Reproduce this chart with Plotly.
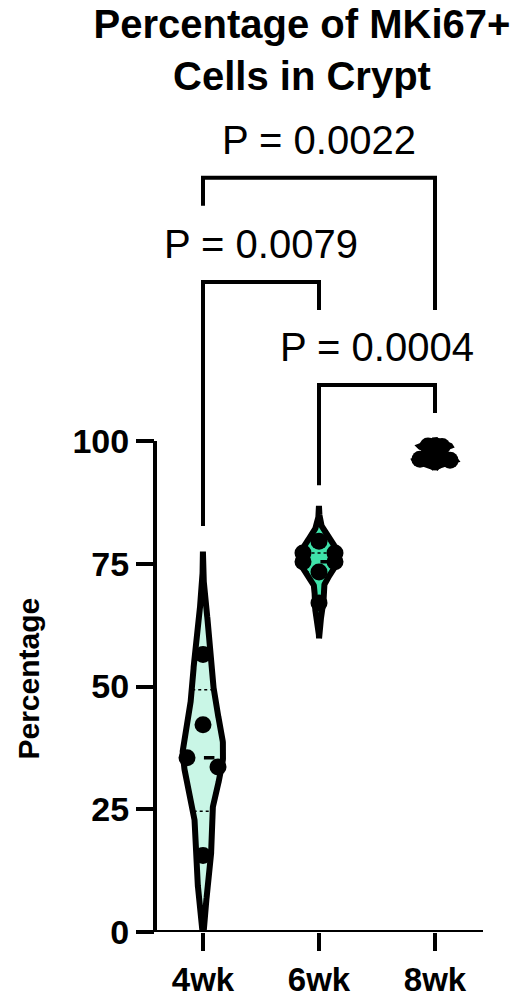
import numpy as np
import plotly.graph_objects as go

# ---------------- data ----------------
groups = ["4wk", "6wk", "8wk"]
vals_4wk = [56.5, 42.2, 35.5, 33.6, 15.6]
vals_6wk = [79.6, 77.2, 77.2, 75.4, 75.4, 73.3, 67.0]
vals_8wk = [99.0, 98.9, 96.3, 96.1, 95.7]
values = [vals_4wk, vals_6wk, vals_8wk]

y_ticks = [0, 25, 50, 75, 100]
comparisons = [(0, 1), (1, 2), (0, 2)]
p_labels = ["P = 0.0079", "P = 0.0004", "P = 0.0022"]

# ---------------- style ----------------
FONT = "Liberation Sans, Arial, sans-serif"
fills = ["#c9f6e6", "#3fe3aa", "#1fa878"]
bandwidths = [7.0, 2.4, 0.5]
half_width = 0.175          # x-units for the widest part of each violin
dot_offsets_px = [[0, 0, -16, 15, 0],
                  [0, -16, 16, -16, 16, 0, 0],
                  [-7, 7, -15, 15, 0]]
PX_PER_X = 116.0
W, H = 519, 996
ML, MR, MB, MT = 155, 36, 64, 100
PX_PER_Y = 4.91
y_top = (H - MB - MT) / PX_PER_Y
x_lo = (155 - 203) / PX_PER_X
x_hi = 2 + (483 - 435) / PX_PER_X
# bracket geometry (data units): level, left-leg end, right-leg end
bracket_geom = [(132.4, 82.7, 126.7), (111.4, 91.0, 105.7), (153.6, 147.9, 126.7)]

fig = go.Figure()


def density(v, bw, y):
    v = np.asarray(v)[:, None]
    return np.exp(-0.5 * ((y[None, :] - v) / bw) ** 2).sum(axis=0)


for i, (g, v) in enumerate(zip(groups, values)):
    bw = bandwidths[i]
    lo = max(0.0, min(v) - 3 * bw)
    hi = max(v) + 3 * bw
    yy = np.linspace(lo, hi, 300)
    d = density(v, bw, yy)
    scale = half_width / d.max()
    w = d * scale
    xs = np.concatenate([i + w, (i - w)[::-1], [i + w[0]]])
    ys = np.concatenate([yy, yy[::-1], [yy[0]]])
    fig.add_trace(go.Scatter(x=xs, y=ys, mode="lines", fill="toself",
                             fillcolor=fills[i],
                             line=dict(color="black", width=6),
                             hoverinfo="skip", showlegend=False))
    # median + quartiles
    q1, med, q3 = np.percentile(v, [25, 50, 75], method="weibull")
    for q, dash, lw in [(med, "dash", 3.5), (q1, "dot", 1.5), (q3, "dot", 1.5)]:
        hw = density(v, bw, np.array([q]))[0] * scale
        fig.add_trace(go.Scatter(x=[i - hw, i + hw], y=[q, q], mode="lines",
                                 line=dict(color="black", width=lw, dash=dash),
                                 hoverinfo="skip", showlegend=False))
    # points
    xo = [i + o / PX_PER_X for o in dot_offsets_px[i]]
    fig.add_trace(go.Scatter(x=xo, y=v, mode="markers",
                             marker=dict(color="black", size=17, line=dict(width=0)),
                             showlegend=False))

# axes lines
fig.add_shape(type="line", xref="paper", yref="y", x0=0, x1=0, y0=0, y1=100,
              line=dict(color="black", width=4))
fig.add_shape(type="line", xref="paper", yref="y", x0=-0.006, x1=1, y0=0, y1=0,
              line=dict(color="black", width=4))

# significance brackets
for (a, b), lab, (lvl, la, lb) in zip(comparisons, p_labels, bracket_geom):
    fig.add_shape(type="path",
                  path=f"M {a},{la} L {a},{lvl} L {b},{lvl} L {b},{lb}",
                  line=dict(color="black", width=4), xref="x", yref="y")
    fig.add_annotation(x=(a + b) / 2, y=lvl, text=lab, showarrow=False,
                       xanchor="center", yanchor="middle", yshift=38,
                       font=dict(family=FONT, size=40, color="black"))

# y-axis title
fig.add_annotation(xref="paper", yref="y", x=0, y=50, text="<b>Percentage</b>",
                   textangle=-90, showarrow=False, xanchor="center", yanchor="middle",
                   xshift=-127, yshift=8,
                   font=dict(family=FONT, size=30, color="black"))

fig.update_layout(
    width=W, height=H,
    margin=dict(l=ML, r=MR, t=MT, b=MB, pad=0, autoexpand=False),
    paper_bgcolor="white", plot_bgcolor="white",
    title=dict(text="<b>Percentage of MKi67+<br>Cells in Crypt</b>",
               x=302 / W, xanchor="center", xref="container",
               y=1 - 38 / H, yanchor="top", yref="container",
               font=dict(family=FONT, size=40, color="black"),
               automargin=False),
    xaxis=dict(range=[x_lo, x_hi], automargin=False,
               tickvals=[0, 1, 2], ticktext=[f"<b>{g}</b>" for g in groups],
               ticks="outside", ticklen=18, tickwidth=4, tickcolor="black",
               ticklabelstandoff=0,
               showline=False, showgrid=False, zeroline=False,
               tickfont=dict(family=FONT, size=33, color="black")),
    yaxis=dict(range=[0, y_top], automargin=False,
               tickvals=y_ticks, ticktext=[f"<b>{t}</b>" for t in y_ticks],
               ticks="outside", ticklen=18, tickwidth=4, tickcolor="black",
               showline=False, showgrid=False, zeroline=False,
               tickfont=dict(family=FONT, size=34, color="black")),
)

fig.write_html("out.html")
